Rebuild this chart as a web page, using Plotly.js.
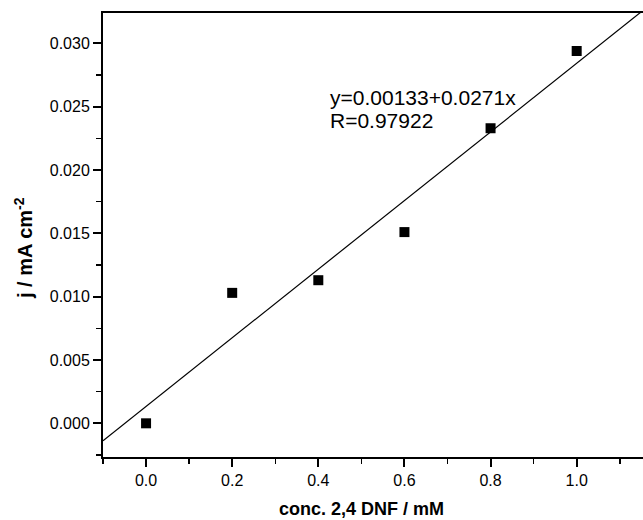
<!DOCTYPE html>
<html>
<head>
<meta charset="utf-8">
<script src="https://cdn.plot.ly/plotly-3.0.1.min.js"></script>
<style>html,body{margin:0;padding:0;background:#fff;}#chart{width:643px;height:520px;}</style>
</head>
<body>
<div id="chart"></div>
<script>
var concentrations = [0.0, 0.2, 0.4, 0.6, 0.8, 1.0];
var currentDensity = [0.0000, 0.0103, 0.0113, 0.0151, 0.0233, 0.0294];
var fitIntercept = 0.00133;
var fitSlope = 0.0271;
var fitLabel = ["y=0.00133+0.0271x", "R=0.97922"];
var xTickValues = [0, 0.2, 0.4, 0.6, 0.8, 1.0];
var yTickValues = [0, 0.005, 0.01, 0.015, 0.02, 0.025, 0.03];
var xTitle = "conc. 2,4 DNF / mM";
var yTitle = "j / mA cm<sup>-2</sup>";
var xRange = [-0.1, 1.154];
var yRange = [-0.00266, 0.0324];

var fitX = [xRange[0], xRange[1]];
var fitY = fitX.map(function (x) { return fitIntercept + fitSlope * x; });

var font = "Liberation Sans, Arial, sans-serif";

var data = [
  {
    x: fitX, y: fitY, mode: "lines", type: "scatter",
    line: {color: "#000", width: 1.2}, hoverinfo: "skip", showlegend: false
  },
  {
    x: concentrations, y: currentDensity, mode: "markers", type: "scatter",
    marker: {symbol: "square", size: 10, color: "#000"}, showlegend: false
  }
];

var layout = {
  width: 643, height: 520,
  margin: {l: 103, r: 0, t: 13, b: 63},
  paper_bgcolor: "#fff", plot_bgcolor: "#fff",
  font: {family: font, color: "#000", size: 16},
  xaxis: {
    range: xRange, tickvals: xTickValues, tickformat: ".1f",
    showgrid: false, zeroline: false, showline: true, linecolor: "#000", linewidth: 2,
    mirror: true, ticks: "outside", ticklen: 8, tickwidth: 2, tickcolor: "#000",
    minor: {dtick: 0.1, tick0: 0, ticks: "outside", ticklen: 5, tickwidth: 1.5, tickcolor: "#000", showgrid: false},
    tickfont: {size: 16, family: font}
  },
  yaxis: {
    range: yRange, tickvals: yTickValues, tickformat: ".3f",
    showgrid: false, zeroline: false, showline: true, linecolor: "#000", linewidth: 2,
    mirror: false, ticks: "outside", ticklen: 8, tickwidth: 2, tickcolor: "#000",
    minor: {dtick: 0.0025, tick0: 0, ticks: "outside", ticklen: 5, tickwidth: 1.5, tickcolor: "#000", showgrid: false},
    tickfont: {size: 16, family: font}
  },
  annotations: [
    {
      xref: "paper", yref: "paper", x: 0.4167, y: 0.8086, xanchor: "left", yanchor: "middle",
      text: fitLabel[0], showarrow: false, align: "left",
      font: {size: 21, family: font, color: "#000"}
    },
    {
      xref: "paper", yref: "paper", x: 0.4167, y: 0.7568, xanchor: "left", yanchor: "middle",
      text: fitLabel[1], showarrow: false, align: "left",
      font: {size: 21, family: font, color: "#000"}
    },
    {
      xref: "paper", yref: "paper", x: 0.478, y: -0.117, xanchor: "center", yanchor: "middle",
      text: "<b>" + xTitle + "</b>", showarrow: false,
      font: {size: 18, family: font, color: "#000"}
    },
    {
      xref: "paper", yref: "paper", x: -0.148, y: 0.4707, xanchor: "center", yanchor: "middle",
      text: "<b>" + yTitle + "</b>", showarrow: false, textangle: -90,
      font: {size: 20, family: font, color: "#000"}
    }
  ]
};

Plotly.newPlot("chart", data, layout, {displayModeBar: false, staticPlot: true});
</script>
</body>
</html>
